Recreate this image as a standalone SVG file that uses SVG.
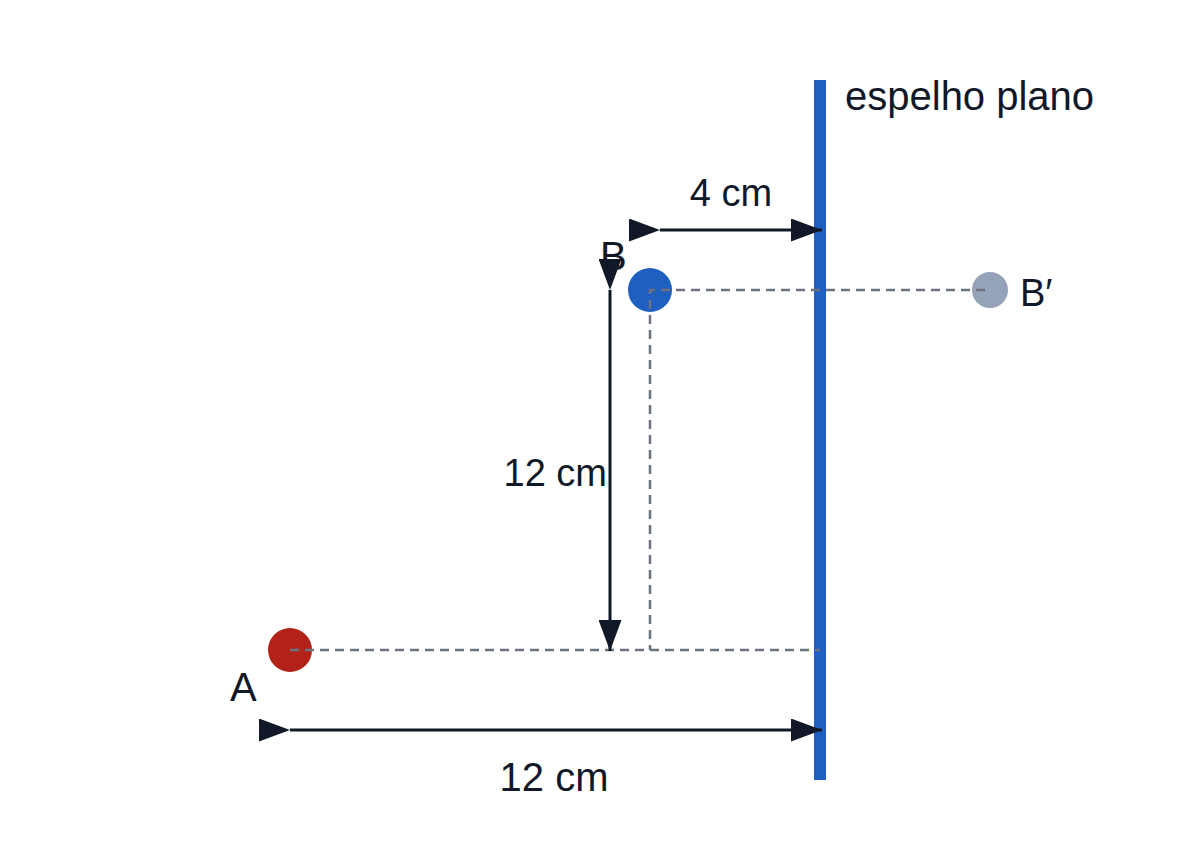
<svg xmlns="http://www.w3.org/2000/svg" width="1200" height="850" viewBox="0 0 1200 850">
<style>
text{font-family:"Liberation Sans",Arial,sans-serif;fill:#111827;}
.dim{stroke:#111827;stroke-width:3;fill:none;marker-start:url(#ah);marker-end:url(#ah);}
.dash{stroke:#6b7280;stroke-width:2.5;fill:none;stroke-dasharray:9 6;}
</style>
<defs>
<marker id="ah" markerUnits="userSpaceOnUse" markerWidth="31" markerHeight="23" viewBox="0 0 31 23" refX="31" refY="11.5" orient="auto"><path d="M0,0 L31,11.5 L0,23 Z" fill="#111827"/></marker>
</defs>
<rect width="1200" height="850" fill="#ffffff"/>
<g id="mirror">
<rect x="814" y="80" width="12" height="700" fill="#1f5fbf"/>
<text x="845" y="110" font-size="40">espelho plano</text>
</g>
<g id="nodeA">
<circle cx="290" cy="650" r="22" fill="#b22218"/>
<text x="230" y="701" font-size="40">A</text>
</g>
<g id="nodeB">
<circle cx="650" cy="290" r="22" fill="#1f5fbf"/>
<text x="600" y="270" font-size="40">B</text>
</g>
<g id="nodeBprime">
<circle cx="990" cy="290" r="18" fill="#94a3b8"/>
<text x="1020" y="306" font-size="38">B′</text>
</g>
<g id="connectors">
<path class="dash" d="M290,650 H820"/>
<path class="dash" d="M985,290 H650 V650"/>
<line class="dim" x1="290" y1="730" x2="822" y2="730"/>
<line class="dim" x1="660" y1="230" x2="822" y2="230"/>
<line class="dim" x1="610" y1="290" x2="610" y2="651"/>
</g>
<g id="labels">
<text x="731" y="206" font-size="38" text-anchor="middle">4 cm</text>
<text x="607" y="486" font-size="38" text-anchor="end">12 cm</text>
<text x="554" y="791" font-size="40" text-anchor="middle">12 cm</text>
</g>
</svg>
